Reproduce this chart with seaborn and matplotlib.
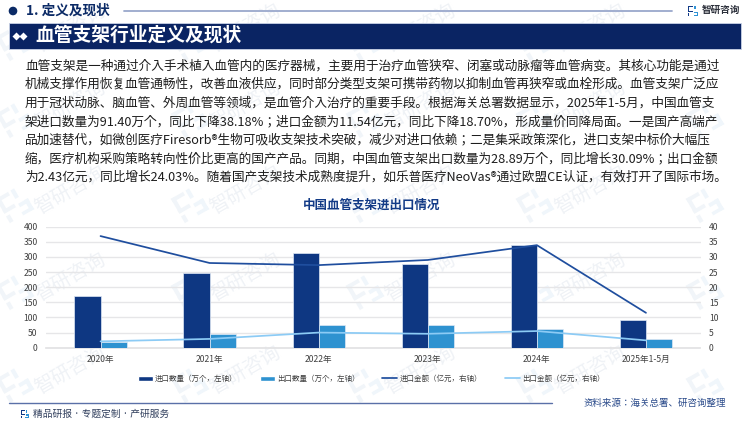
import numpy as np
import pandas as pd
import matplotlib
matplotlib.use("Agg")
import matplotlib.pyplot as plt
from matplotlib.lines import Line2D
from matplotlib.patches import Patch, Rectangle, Polygon
import seaborn as sns

FONT = "Noto Sans CJK JP"
sns.set_theme(style="white", rc={"font.family": FONT, "axes.unicode_minus": False})

categories = ["2020年", "2021年", "2022年", "2023年", "2024年", "2025年1-5月"]
import_qty = [170, 247, 312, 278, 339, 91.40]
export_qty = [20, 46, 76, 74, 62, 28.89]
import_amt = [36.9, 28.0, 27.3, 29.0, 33.9, 11.54]
export_amt = [2.1, 2.9, 5.0, 4.6, 5.5, 2.43]
series_names = ["进口数量\uff08万个\uff0c左轴\uff09", "出口数量\uff08万个\uff0c左轴\uff09",
                "进口金额\uff08亿元\uff0c右轴\uff09", "出口金额\uff08亿元\uff0c右轴\uff09"]
chart_title = "中国血管支架进出口情况"
body_lines = [
    "血管支架是一种通过介入手术植入血管内的医疗器械\uff0c主要用于治疗血管狭窄、闭塞或动脉瘤等血管病变。其核心功能是通过",
    "机械支撑作用恢复血管通畅性\uff0c改善血液供应\uff0c同时部分类型支架可携带药物以抑制血管再狭窄或血栓形成。血管支架广泛应",
    "用于冠状动脉、脑血管、外周血管等领域\uff0c是血管介入治疗的重要手段。根据海关总署数据显示\uff0c2025年1-5月\uff0c中国血管支",
    "架进口数量为91.40万个\uff0c同比下降38.18%\uff1b进口金额为11.54亿元\uff0c同比下降18.70%\uff0c形成量价同降局面。一是国产高端产",
    "品加速替代\uff0c如微创医疗Firesorb®生物可吸收支架技术突破\uff0c减少对进口依赖\uff1b二是集采政策深化\uff0c进口支架中标价大幅压",
    "缩\uff0c医疗机构采购策略转向性价比更高的国产产品。同期\uff0c中国血管支架出口数量为28.89万个\uff0c同比增长30.09%\uff1b出口金额",
    "为2.43亿元\uff0c同比增长24.03%。随着国产支架技术成熟度提升\uff0c如乐普医疗NeoVas®通过欧盟CE认证\uff0c有效打开了国际市场。",
]

W, H = 750, 421
fig = plt.figure(figsize=(W / 100, H / 100), dpi=100, facecolor="white")

bg = fig.add_axes([0, 0, 1, 1], zorder=0)
bg.set_xlim(0, W)
bg.set_ylim(H, 0)
bg.axis("off")


def logo(ax, cx, cy, s, angle, c1, c2, z=1):
    t = np.deg2rad(angle)
    rot = np.array([[np.cos(t), np.sin(t)], [-np.sin(t), np.cos(t)]])
    parts = [
        (c1, [(-1, -1, 1.0, .28), (-1, -1, .3, 1.2), (-1, -.05, .95, .28), (-1, .45, .3, .55)]),
        (c2, [(.2, -1, .3, .7), (.2, .1, .8, .28), (.7, .1, .3, .9), (.1, .75, .9, .25)]),
    ]
    for col, rects in parts:
        for x0, y0, w, h in rects:
            pts = np.array([(x0, y0), (x0 + w, y0), (x0 + w, y0 + h), (x0, y0 + h)]) * s
            pts = pts @ rot.T + np.array([cx, cy])
            ax.add_patch(Polygon(pts, closed=True, fc=col, ec="none", zorder=z))


# faint watermark
for wx in (70, 245, 420, 590):
    for wy in (28, 105, 190, 277, 370):
        bg.text(wx, wy, "智研咨询", color="#eff2f6", fontsize=14, rotation=30,
                ha="center", va="center", zorder=1)
        logo(bg, wx - 55, wy + 14, 14, 30, "#f1f5f9", "#f0f6fb", z=1)
for wy in (105, 190, 277, 370):
    logo(bg, 705, wy + 14, 14, 30, "#f1f5f9", "#f0f6fb", z=1)

# header
bg.add_patch(plt.Circle((13, 11), 3.6, color="#0b2a66", zorder=3))
bg.text(26, 11, "1. 定义及现状", fontsize=9.8, fontweight="bold", color="#0b2a66", va="center", zorder=3)
bg.plot([124, 672], [10.5, 10.5], color="#9aa8cc", lw=1.3, zorder=3)
logo(bg, 693, 11, 5.3, 0, "#123a86", "#2f93d6", z=3)
bg.text(702, 10, "智研咨询", fontsize=6.9, fontweight="bold", color="#2b2f3a", va="center", zorder=3)

bg.add_patch(Rectangle((9, 23), 732, 26, fc="#0a2463", ec="#c9d2e6", lw=0.6, zorder=3))
for dx in (16.5, 23.5):
    bg.add_patch(Polygon([(dx - 4, 36.5), (dx, 32.5), (dx + 4, 36.5), (dx, 40.5)], fc="white", ec="none", zorder=4))
bg.text(35, 35.5, "血管支架行业定义及现状", fontsize=13.5, fontweight="bold", color="white", va="center", zorder=4)

for yy, line in zip((66, 84.5, 103, 121.5, 140, 159, 177.5), body_lines):
    bg.text(25, yy, line, fontsize=9.13, color="#1d1d1d", va="center", zorder=3)

bg.text(371.5, 205.5, chart_title, fontsize=9, fontweight="bold", color="#123a86",
        ha="center", va="center", zorder=3)

# footer
bg.plot([9, 552], [403, 403], color="#5a70a8", lw=1, zorder=3)
logo(bg, 25, 414, 4, 0, "#123a86", "#2f93d6", z=3)
bg.text(33, 414, "精品研报 · 专题定制 · 产研服务", fontsize=7, color="#33415f", va="center", zorder=3)
bg.text(583, 403, "资料来源\uff1a海关总署、研咨询整理", fontsize=6.8, color="#2a4a8a", va="center", zorder=3)

# chart
left, right, top, bottom = 46, 700.5, 226.7, 347.7
ax = fig.add_axes([left / W, 1 - bottom / H, (right - left) / W, (bottom - top) / H], zorder=2)
ax.patch.set_alpha(0)

bars = pd.DataFrame({
    "category": categories * 2,
    "series": [series_names[0]] * 6 + [series_names[1]] * 6,
    "value": import_qty + export_qty,
})
palette = {series_names[0]: "#0e3782", series_names[1]: "#2e92d0"}
sns.barplot(data=bars, x="category", y="value", hue="series", order=categories, palette=palette,
            width=0.48, gap=0, dodge=True, saturation=1, edgecolor="#dfe8f5", linewidth=0.5,
            legend=False, ax=ax, zorder=3)
ax.set_xlim(-0.5, 5.5)
ax.set_ylim(0, 400)
ax.set_yticks(range(0, 401, 50))
ax.grid(axis="y", color="#e6e6e8", lw=1, zorder=0)
ax.set_axisbelow(True)
ax.set_xlabel("")
ax.set_ylabel("")
ax.tick_params(axis="both", length=0, labelsize=6.2, labelcolor="#404040")
ax.tick_params(axis="x", pad=5.5)
ax.tick_params(axis="y", pad=6)
for s in ("top", "left", "right"):
    ax.spines[s].set_visible(False)
ax.spines["bottom"].set_color("#e2e2e4")

ax2 = ax.twinx()
ax2.patch.set_alpha(0)
x_pos = np.arange(len(categories))
sns.lineplot(x=x_pos, y=import_amt, color="#1f4e9e", lw=1.25, ax=ax2, zorder=5, errorbar=None)
sns.lineplot(x=x_pos, y=export_amt, color="#8ccbf5", lw=1.25, ax=ax2, zorder=5, errorbar=None)
ax2.set_ylim(0, 40)
ax2.set_yticks(range(0, 41, 5))
ax2.set_xlim(-0.5, 5.5)
ax2.set_ylabel("")
ax2.tick_params(axis="y", length=0, labelsize=6.2, labelcolor="#404040", pad=6)
for s in ax2.spines.values():
    s.set_visible(False)

handles = [
    Patch(fc=palette[series_names[0]], label=series_names[0]),
    Patch(fc=palette[series_names[1]], label=series_names[1]),
    Line2D([], [], color="#1f4e9e", lw=1.25, label=series_names[2]),
    Line2D([], [], color="#8ccbf5", lw=1.25, label=series_names[3]),
]
fig.legend(handles=handles, ncol=4, loc="center", bbox_to_anchor=(371 / W, 1 - 379 / H), frameon=False,
           fontsize=5.4, labelcolor="#404040", handlelength=2.0, handleheight=0.6, handletextpad=0.3,
           columnspacing=3.0, borderpad=0)

fig.savefig("out.png", dpi=100, facecolor="white")
